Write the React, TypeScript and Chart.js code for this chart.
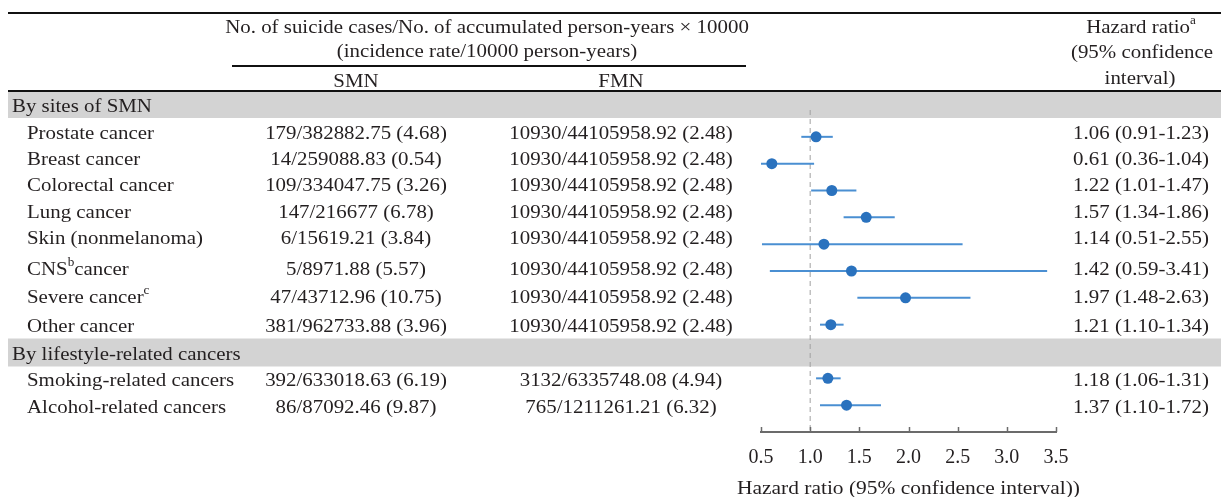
import React, { useEffect, useRef } from "react";
import { Chart, registerables } from "chart.js";

Chart.register(...registerables);

// ---------- data ----------
const rowLabels = [
  "Prostate cancer",
  "Breast cancer",
  "Colorectal cancer",
  "Lung cancer",
  "Skin (nonmelanoma)",
  "CNS{b}cancer",
  "Severe cancer{c}",
  "Other cancer",
  "Smoking-related cancers",
  "Alcohol-related cancers",
];
const rowPositions = [1, 2, 3, 4, 5, 6, 7, 8, 10, 11];
const sectionLabels = ["By sites of SMN", "By lifestyle-related cancers"];
const sectionPositions = [0, 9];
const smnValues = [
  "179/382882.75 (4.68)",
  "14/259088.83 (0.54)",
  "109/334047.75 (3.26)",
  "147/216677 (6.78)",
  "6/15619.21 (3.84)",
  "5/8971.88 (5.57)",
  "47/43712.96 (10.75)",
  "381/962733.88 (3.96)",
  "392/633018.63 (6.19)",
  "86/87092.46 (9.87)",
];
const fmnValues = [
  "10930/44105958.92 (2.48)",
  "10930/44105958.92 (2.48)",
  "10930/44105958.92 (2.48)",
  "10930/44105958.92 (2.48)",
  "10930/44105958.92 (2.48)",
  "10930/44105958.92 (2.48)",
  "10930/44105958.92 (2.48)",
  "10930/44105958.92 (2.48)",
  "3132/6335748.08 (4.94)",
  "765/1211261.21 (6.32)",
];
const hazardRatios = [1.06, 0.61, 1.22, 1.57, 1.14, 1.42, 1.97, 1.21, 1.18, 1.37];
const ciLower = [0.91, 0.36, 1.01, 1.34, 0.51, 0.59, 1.48, 1.1, 1.06, 1.1];
const ciUpper = [1.23, 1.04, 1.47, 1.86, 2.55, 3.41, 2.63, 1.34, 1.31, 1.72];
const hrLabels = [
  "1.06 (0.91-1.23)",
  "0.61 (0.36-1.04)",
  "1.22 (1.01-1.47)",
  "1.57 (1.34-1.86)",
  "1.14 (0.51-2.55)",
  "1.42 (0.59-3.41)",
  "1.97 (1.48-2.63)",
  "1.21 (1.10-1.34)",
  "1.18 (1.06-1.31)",
  "1.37 (1.10-1.72)",
];
const xTicks = [0.5, 1.0, 1.5, 2.0, 2.5, 3.0, 3.5];
const referenceValue = 1.0;
const headerTop = [
  "No. of suicide cases/No. of accumulated person-years × 10000",
  "(incidence rate/10000 person-years)",
];
const groupHeaders = ["SMN", "FMN"];
const hrHeader = ["Hazard ratio{a}", "(95% confidence", "interval)"];
const xTitle = "Hazard ratio (95% confidence interval))";

// ---------- layout / styles ----------
const FONT = '"Liberation Serif", "Times New Roman", serif';
const TEXT = "#231f20";
const SX = 1.1;
const FS = 19;
const BAND = "#d3d3d3";
const AXIS = "#6b6b6b";
const DOT = "#2a72be";
const CI = "#4a8fd2";
// visual centre of each table text line (the table rows sit slightly off the plot rows)
const textRowY = [132, 158, 184, 211, 237, 268, 296, 325, 379, 406];
const TEXT_DY = 2; // 'middle' baseline sits ~2px below visual centre of glyphs

function drawRich(
  ctx: CanvasRenderingContext2D,
  raw: string,
  x: number,
  yVisual: number,
  align: "left" | "center" | "right",
  size = FS
) {
  const y = yVisual + TEXT_DY;
  const parts = raw.split(/[{}]/);
  const main = `${size}px ${FONT}`;
  const sup = `${Math.round(size * 0.62)}px ${FONT}`;
  const widths = parts.map((p, i) => {
    ctx.font = i % 2 ? sup : main;
    return ctx.measureText(p).width * SX;
  });
  const total = widths.reduce((a, b) => a + b, 0);
  let cx = align === "left" ? x : align === "center" ? x - total / 2 : x - total;
  parts.forEach((p, i) => {
    ctx.save();
    ctx.font = i % 2 ? sup : main;
    ctx.fillStyle = TEXT;
    ctx.textAlign = "left";
    ctx.textBaseline = "middle";
    ctx.translate(cx, i % 2 ? y - size * 0.36 : y);
    ctx.scale(SX, 1);
    ctx.fillText(p, 0, 0);
    ctx.restore();
    cx += widths[i];
  });
}

const tablePlugin = {
  id: "forestTable",
  beforeDraw(chart: any) {
    const ctx = chart.ctx as CanvasRenderingContext2D;
    const y = chart.scales.y;
    const W = chart.width;
    ctx.save();
    ctx.fillStyle = BAND;
    ctx.fillRect(8, 92, W - 8, 26);
    const b2 = y.getPixelForValue(sectionPositions[1]);
    ctx.fillRect(8, b2 - 13, W - 8, 28);
    ctx.fillStyle = "#111";
    ctx.fillRect(8, 12, W - 8, 2);
    ctx.fillRect(8, 90, W - 8, 2);
    ctx.fillRect(232, 65, 514, 2);
    ctx.restore();
  },
  afterDraw(chart: any) {
    const ctx = chart.ctx as CanvasRenderingContext2D;
    const x = chart.scales.x;
    const y = chart.scales.y;
    const area = chart.chartArea;
    ctx.save();
    ctx.strokeStyle = AXIS;
    ctx.lineWidth = 1.5;
    xTicks.forEach((t) => {
      const px = Math.round(x.getPixelForValue(t)) + 0.5;
      ctx.beginPath();
      ctx.moveTo(px, area.bottom - 5);
      ctx.lineTo(px, area.bottom);
      ctx.stroke();
    });
    ctx.restore();

    // axis title
    drawRich(ctx, xTitle, (area.left + area.right) / 2, 487, "center", 19.5);

    // headers
    drawRich(ctx, headerTop[0], 487, 26, "center");
    drawRich(ctx, headerTop[1], 487, 50, "center");
    drawRich(ctx, groupHeaders[0], 356, 80, "center");
    drawRich(ctx, groupHeaders[1], 621, 80, "center");
    drawRich(ctx, hrHeader[0], 1141, 26, "center");
    drawRich(ctx, hrHeader[1], 1142, 51, "center");
    drawRich(ctx, hrHeader[2], 1140, 77, "center");

    sectionLabels.forEach((s, i) => {
      const py = y.getPixelForValue(sectionPositions[i]);
      drawRich(ctx, s, 12, i === 0 ? 105 : py + 2, "left");
    });
    rowLabels.forEach((lab, i) => {
      const py = textRowY[i];
      drawRich(ctx, lab, 27, py, "left");
      drawRich(ctx, smnValues[i], 356, py, "center");
      drawRich(ctx, fmnValues[i], 621, py, "center");
      drawRich(ctx, hrLabels[i], 1141, py, "center");
    });
  },
};

export default function App() {
  const ref = useRef<HTMLCanvasElement | null>(null);
  useEffect(() => {
    if (!ref.current) return;
    const ciSets = hazardRatios.map((_, i) => ({
      label: "ci" + i,
      data: [
        { x: ciLower[i], y: rowPositions[i] },
        { x: ciUpper[i], y: rowPositions[i] },
      ],
      showLine: true,
      borderColor: CI,
      borderWidth: 2,
      pointRadius: 0,
      order: 1,
    }));
    const chart = new Chart(ref.current, {
      type: "scatter",
      data: {
        datasets: [
          {
            label: "HR",
            data: hazardRatios.map((v, i) => ({ x: v, y: rowPositions[i] })),
            pointRadius: 5.5,
            pointBackgroundColor: DOT,
            pointBorderWidth: 0,
            showLine: false,
            order: 0,
          },
          ...ciSets,
          {
            label: "ref",
            data: [
              { x: referenceValue, y: 0 },
              { x: referenceValue, y: 12 },
            ],
            showLine: true,
            borderColor: "#a0a0a0",
            borderWidth: 1,
            borderDash: [5, 4],
            pointRadius: 0,
            order: 2,
          },
        ],
      },
      options: {
        responsive: false,
        animation: false,
        layout: { padding: { left: 761, right: 165, top: 110, bottom: 0 } },
        plugins: { legend: { display: false }, tooltip: { enabled: false } },
        scales: {
          x: {
            type: "linear",
            min: 0.5,
            max: 3.5,
            afterFit: (s: any) => {
              s.height = 65;
            },
            grid: { display: false, drawTicks: false },
            border: { display: true, color: AXIS, width: 2 },
            ticks: {
              stepSize: 0.5,
              padding: 14,
              color: TEXT,
              font: { family: FONT, size: 20 },
              callback: (v: any) => Number(v).toFixed(1),
            },
            title: { display: false, text: xTitle },
          },
          y: {
            type: "linear",
            display: false,
            reverse: true,
            min: 0,
            max: 12,
          },
        },
      },
      plugins: [tablePlugin],
    });
    return () => chart.destroy();
  }, []);
  return (
    <div style={{ position: "fixed", left: 0, top: 0, width: 1221, height: 497, background: "#fff" }}>
      <canvas ref={ref} width={1221} height={497} style={{ display: "block" }} />
    </div>
  );
}
